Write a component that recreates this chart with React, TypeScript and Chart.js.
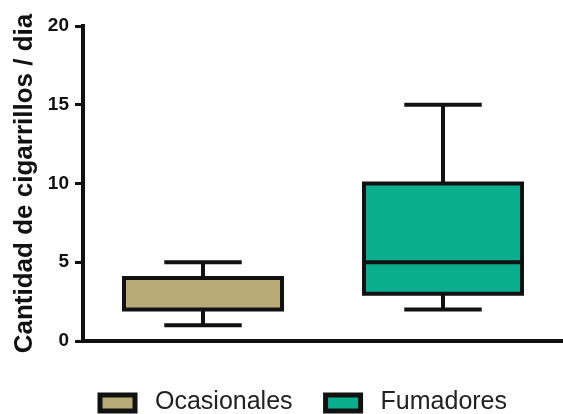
import React, { useEffect, useRef } from "react";
import { Chart, registerables } from "chart.js";

Chart.register(...registerables);

// Box-plot summary per group
const grupos = ["Ocasionales", "Fumadores"];
const minimos = [1, 2];
const cuartil1 = [2, 3];
const medianas = [4, 5];
const cuartil3 = [4, 10];
const maximos = [5, 15];
const colores = ["#b8aa77", "#0aae8f"];
const ticksY = [0, 5, 10, 15, 20];

const FONT = "'Liberation Sans', Arial, Helvetica, sans-serif";
const LINE = 4;

// Draws box outlines, medians and whiskers on top of the floating bars
const boxPlotPlugin = {
  id: "boxPlot",
  afterDatasetsDraw(chart: any) {
    const ctx = chart.ctx;
    const y = chart.scales.y;
    ctx.save();
    ctx.strokeStyle = "#111";
    ctx.lineWidth = LINE;
    ctx.lineCap = "butt";
    chart.data.datasets.forEach((_: any, di: number) => {
      const meta = chart.getDatasetMeta(di);
      meta.data.forEach((el: any, j: number) => {
        if (chart.data.datasets[di].data[j] == null) return;
        const cx = el.x;
        const w = el.width;
        const left = cx - w / 2;
        const right = cx + w / 2;
        const yq1 = y.getPixelForValue(cuartil1[j]);
        const yq3 = y.getPixelForValue(cuartil3[j]);
        const ymed = y.getPixelForValue(medianas[j]);
        const ymin = y.getPixelForValue(minimos[j]);
        const ymax = y.getPixelForValue(maximos[j]);
        const cap = w * 0.49;
        ctx.beginPath();
        ctx.rect(left, yq3, w, yq1 - yq3);
        ctx.moveTo(left, ymed);
        ctx.lineTo(right, ymed);
        ctx.moveTo(cx, yq3);
        ctx.lineTo(cx, ymax);
        ctx.moveTo(cx - cap / 2, ymax);
        ctx.lineTo(cx + cap / 2, ymax);
        ctx.moveTo(cx, yq1);
        ctx.lineTo(cx, ymin);
        ctx.moveTo(cx - cap / 2, ymin);
        ctx.lineTo(cx + cap / 2, ymin);
        ctx.stroke();
      });
    });
    ctx.restore();
  },
};

// Legend row under the plot: outlined swatch followed by the group name
const legendPlugin = {
  id: "boxLegend",
  afterDraw(chart: any) {
    const ctx = chart.ctx;
    const area = chart.chartArea;
    const swatchW = 35;
    const swatchH = 16;
    const textGap = 20;
    const itemGap = 33;
    let x = area.left + 17;
    const top = area.bottom + 54;
    ctx.save();
    ctx.font = `25px ${FONT}`;
    ctx.textBaseline = "alphabetic";
    ctx.textAlign = "left";
    grupos.forEach((g, i) => {
      ctx.fillStyle = colores[i];
      ctx.fillRect(x, top, swatchW, swatchH);
      ctx.strokeStyle = "#111";
      ctx.lineWidth = LINE + 1;
      ctx.strokeRect(x, top, swatchW, swatchH);
      const tx = x + swatchW + textGap;
      ctx.fillStyle = "#222";
      ctx.fillText(g, tx, top + 14);
      x = tx + ctx.measureText(g).width + itemGap;
    });
    ctx.restore();
  },
};

export default function App() {
  const ref = useRef<HTMLCanvasElement | null>(null);

  useEffect(() => {
    if (!ref.current) return;
    const chart = new Chart(ref.current, {
      type: "bar",
      data: {
        labels: grupos,
        datasets: grupos.map((g, i) => ({
          label: g,
          data: grupos.map((_, j) => (j === i ? [cuartil1[j], cuartil3[j]] : null)) as any,
          backgroundColor: colores[i],
          borderWidth: 0,
          barThickness: 158,
          grouped: false,
        })),
      },
      options: {
        responsive: false,
        animation: false,
        layout: { padding: { top: 26, right: 0, bottom: 73, left: 0 } },
        plugins: {
          tooltip: { enabled: false },
          legend: { display: false },
        },
        scales: {
          x: {
            grid: { display: false, drawTicks: false },
            ticks: { display: false },
            border: { display: true, color: "#111", width: LINE },
            afterFit: (scale: any) => {
              scale.height = 0;
            },
          },
          y: {
            min: 0,
            max: 20,
            afterBuildTicks: (scale: any) => {
              scale.ticks = ticksY.map((v) => ({ value: v }));
            },
            afterFit: (scale: any) => {
              scale.width = 83;
            },
            grid: {
              drawOnChartArea: false,
              drawTicks: true,
              tickLength: 8,
              tickWidth: 3,
              tickColor: "#111",
            },
            border: { display: true, color: "#111", width: LINE },
            ticks: {
              padding: 6,
              color: "#111",
              font: { family: FONT, size: 19, weight: "bold" },
            },
            title: {
              display: true,
              text: "Cantidad de cigarrillos / dia",
              color: "#111",
              padding: { top: 9, bottom: 0 },
              font: { family: FONT, size: 26, weight: "bold" },
            },
          },
        },
      },
      plugins: [boxPlotPlugin, legendPlugin],
    });
    return () => chart.destroy();
  }, []);

  return (
    <div style={{ position: "absolute", left: 0, top: 0, width: 563, height: 414, background: "#fff" }}>
      <canvas ref={ref} width={563} height={414} />
    </div>
  );
}
